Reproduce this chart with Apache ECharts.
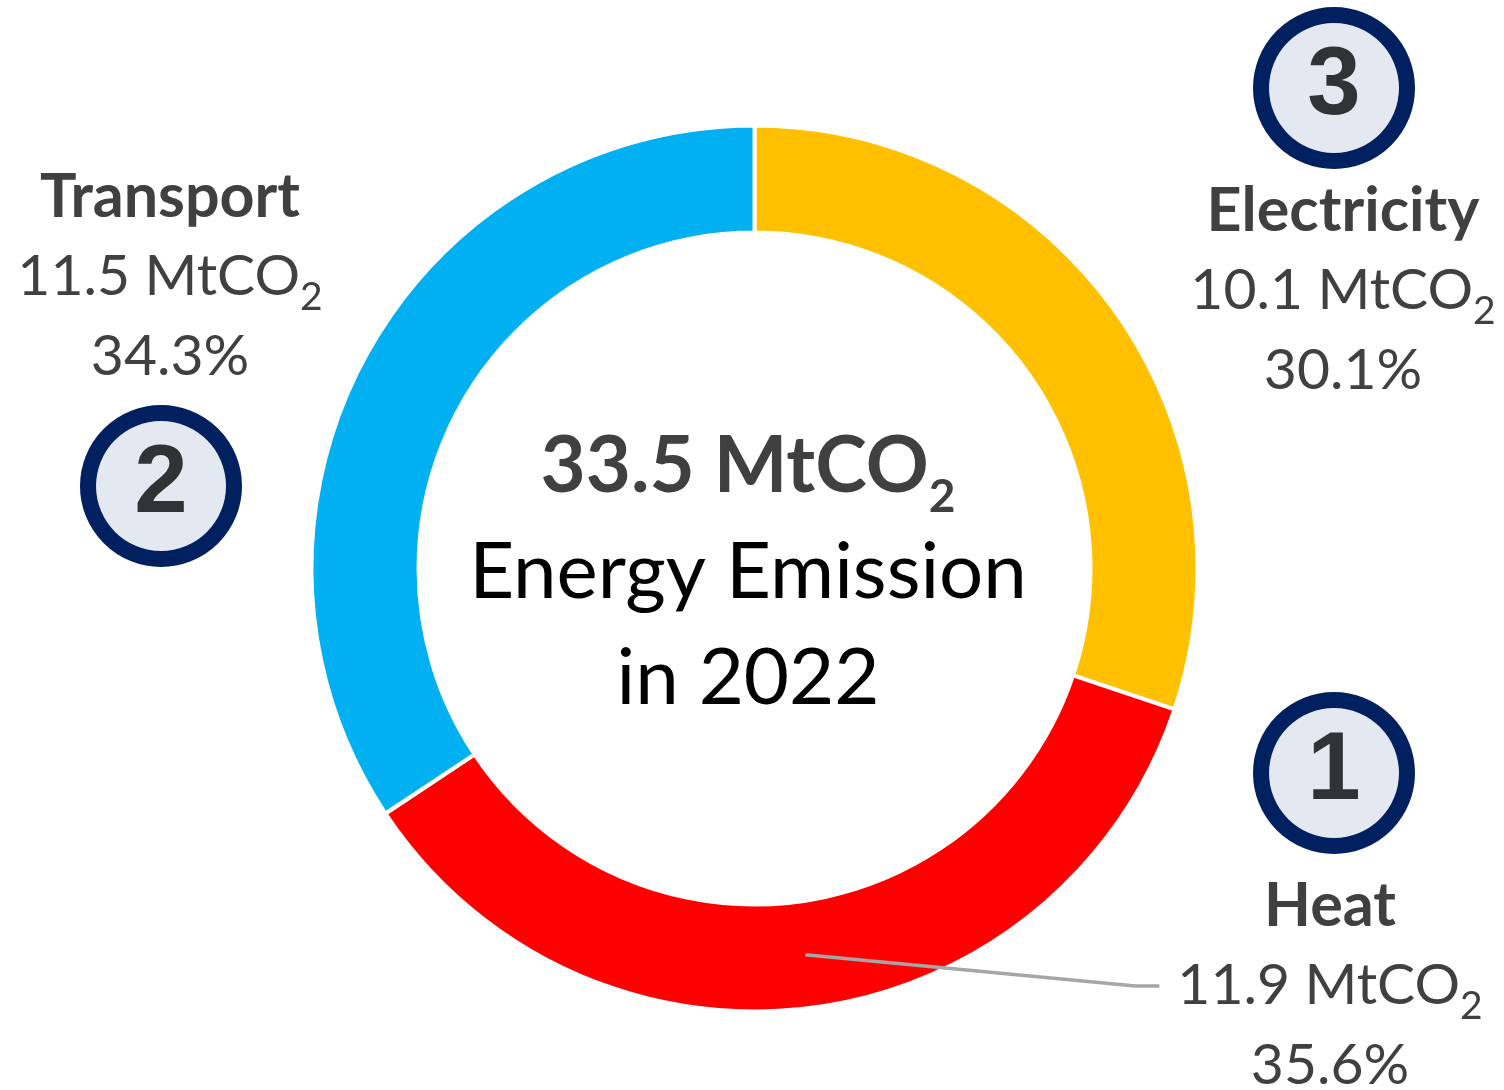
<!DOCTYPE html>
<html><head><meta charset="utf-8">
<script src="https://cdn.jsdelivr.net/npm/echarts@6/dist/echarts.min.js"></script>
<style>html,body{margin:0;padding:0;background:#fff}#c{width:1504px;height:1090px}</style>
</head><body><div id="c"></div>
<script>
// ---- data ----
const categories = ['Electricity', 'Heat', 'Transport'];
const emissions = [10.1, 11.9, 11.5];          // MtCO2
const shares = [30.1, 35.6, 34.3];             // %
const ranks = [3, 1, 2];
const colors = ['#ffc000', '#ff0000', '#00b0f0'];
const centerLines = ['Energy Emission', 'in 2022'];
const unit = 'MtCO';
const subscript = '2';

const total = emissions.reduce((a, b) => a + b, 0);

// ---- layout ----
const CX = 754.5, CY = 568.5, R0 = 336, R1 = 443;
const FONT = 'Lato, "Open Sans", sans-serif';
const BADGE = 130, LINE = 80;
const place = [
  {x: 1343, y: 23, badgeFirst: true, gap: 18, shift: -9},
  {x: 1330, y: 708, badgeFirst: true, gap: 28, shift: 4},
  {x: 170, y: 157, badgeFirst: false, gap: 24, shift: -9}
];

const chart = echarts.init(document.getElementById('c'), null, {renderer: 'canvas'});

function badgeLine(i) {
  const s = place[i].shift;
  const b = `{badge|${ranks[i]}}`;
  if (s < 0) return b + `{sp${-2 * s}| }`;
  if (s > 0) return `{sp${2 * s}| }` + b;
  return b;
}

function fmt(p) {
  const i = p.dataIndex, pl = place[i];
  const name = `{name|${categories[i]}}`;
  const val = `{val|${emissions[i].toFixed(1)} ${unit}}{sub|${subscript}}`;
  const pct = `{val|${shares[i].toFixed(1)}%}`;
  const badge = badgeLine(i);
  const gap = `{gap${pl.gap}| }`;
  return pl.badgeFirst ? [badge, gap, name, val, pct].join('\n') : [name, val, pct, gap, badge].join('\n');
}

const rich = {
  name: {fontFamily: FONT, fontWeight: 'bold', fontSize: 61, color: '#404040', lineHeight: LINE, align: 'center'},
  val: {fontFamily: FONT, fontSize: 57, color: '#404040', lineHeight: LINE, align: 'center'},
  sub: {fontFamily: FONT, fontSize: 39, color: '#404040', lineHeight: 40, verticalAlign: 'bottom', align: 'center'},
  badge: {
    fontFamily: '"Liberation Sans", Arial, sans-serif', fontWeight: 'bold', fontSize: 96, color: '#303336',
    width: BADGE, height: BADGE, lineHeight: BADGE, align: 'center',
    backgroundColor: '#e4e8f0', borderColor: '#002060', borderWidth: 16, borderRadius: BADGE / 2
  },
  sp18: {fontSize: 1, width: 18, lineHeight: 1, align: 'center'},
  sp8: {fontSize: 1, width: 8, lineHeight: 1, align: 'center'},
  gap18: {fontSize: 1, lineHeight: 18},
  gap24: {fontSize: 1, lineHeight: 24},
  gap28: {fontSize: 1, lineHeight: 28}
};

const sliceData = categories.map((c, i) => ({
  name: c, value: emissions[i], itemStyle: {color: colors[i]}
}));
const labelData = categories.map((c, i) => ({
  name: c, value: emissions[i], labelLine: {show: i === 1}
}));

function midAngle(i) {
  let before = 0;
  for (let k = 0; k < i; k++) before += emissions[k];
  return (before + emissions[i] / 2) / total * 2 * Math.PI;
}

const option = {
  backgroundColor: '#ffffff',
  animation: false,
  title: {
    text: `{b|${total.toFixed(1)} ${unit}}{bs|${subscript}}\n{n|${centerLines[0]}}\n{n|${centerLines[1]}}`,
    left: 748, top: 414, padding: 0, textAlign: 'center',
    textStyle: {
      rich: {
        b: {fontFamily: FONT, fontWeight: 'bold', fontSize: 78, color: '#404040', lineHeight: 106, align: 'center'},
        bs: {fontFamily: FONT, fontWeight: 'bold', fontSize: 46, color: '#404040', lineHeight: 50, verticalAlign: 'bottom', align: 'center'},
        n: {fontFamily: FONT, fontWeight: 'normal', fontSize: 78, color: '#000000', lineHeight: 106, align: 'center'}
      }
    }
  },
  series: [{
    type: 'pie',
    z: 2,
    center: [CX, CY],
    radius: [R0, R1],
    startAngle: 90,
    clockwise: true,
    silent: true,
    itemStyle: {borderColor: '#ffffff', borderWidth: 4},
    label: {show: false},
    labelLine: {show: false},
    data: sliceData
  }, {
    type: 'pie',
    z: 5,
    center: [CX, CY],
    radius: [R0, R1],
    startAngle: 90,
    clockwise: true,
    avoidLabelOverlap: false,
    silent: true,
    itemStyle: {color: 'rgba(0,0,0,0)', borderWidth: 0},
    label: {show: true, position: 'outside', formatter: fmt, rich: rich},
    labelLine: {show: true, smooth: false, lineStyle: {color: '#a6a6a6', width: 3.5}},
    labelLayout: function (params) {
      const i = params.dataIndex, pl = place[i];
      const res = {x: pl.x, y: pl.y, align: 'center', verticalAlign: 'top'};
      if (i === 1) {
        const a = midAngle(i), rm = (R0 + R1) / 2;
        const sx = CX + Math.sin(a) * rm, sy = CY - Math.cos(a) * rm;
        const left = pl.x - params.labelRect.width / 2;
        const yv = pl.y + BADGE + pl.gap + LINE + LINE / 2;
        res.labelLinePoints = [[sx, sy], [left - 42, yv], [left - 18, yv]];
      }
      return res;
    },
    data: labelData
  }]
};
chart.setOption(option);
</script>
</body></html>
